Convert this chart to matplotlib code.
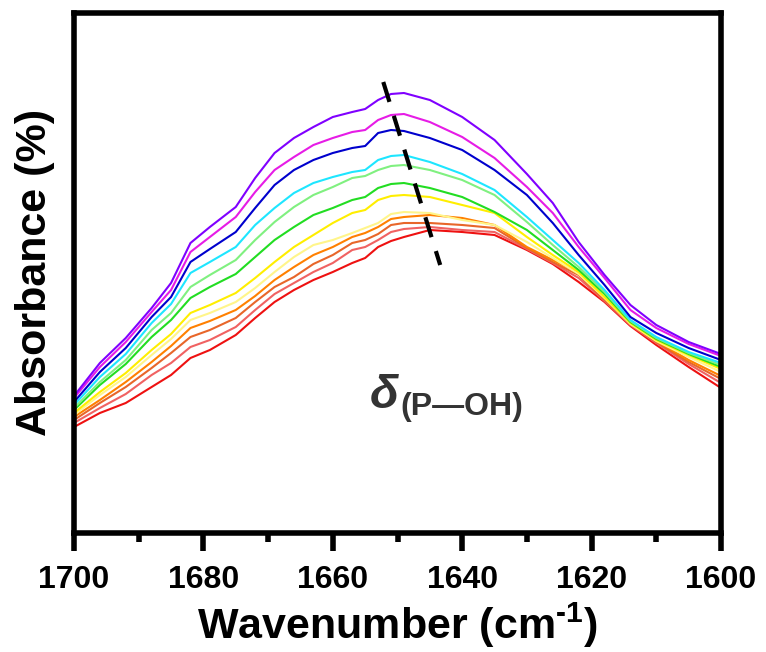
import matplotlib
matplotlib.use("Agg")
import matplotlib.pyplot as plt
from matplotlib.ticker import MultipleLocator

plt.rcParams["font.family"] = ["Liberation Sans", "DejaVu Sans"]
plt.rcParams["font.weight"] = "bold"
plt.rcParams["mathtext.fontset"] = "custom"
plt.rcParams["mathtext.rm"] = "Liberation Sans:bold"
plt.rcParams["mathtext.default"] = "rm"

# wavenumber grid (cm-1)
wavenumber = [1700, 1696, 1692, 1688, 1685, 1682, 1679, 1675, 1672, 1669, 1666, 1663, 1660, 1657, 1655,
              1653, 1651, 1649, 1645, 1640, 1635, 1630, 1626, 1622, 1618, 1614, 1610, 1605, 1600]

# absorbance (arbitrary units), one spectrum per colour, top to bottom
violet = [134, 167, 192, 222, 247, 287, 303, 323, 352, 377, 392, 403, 413, 418, 421,
          430, 436, 437, 430, 413, 390, 356, 327, 288, 255, 225, 205, 188, 176]
magenta = [132, 163, 188, 218, 240, 278, 293, 313, 338, 360, 373, 385, 392, 398, 400,
           410, 415, 416, 408, 393, 372, 343, 317, 283, 252, 220, 202, 186, 174]
blue = [128, 158, 182, 213, 233, 268, 281, 298, 322, 345, 360, 370, 377, 382, 384,
        397, 400, 399, 392, 380, 360, 335, 307, 275, 245, 213, 197, 182, 170]
cyan = [125, 153, 176, 207, 226, 257, 268, 283, 305, 322, 337, 347, 353, 358, 360,
        370, 374, 375, 368, 356, 340, 313, 290, 267, 240, 210, 193, 178, 167]
light_green = [122, 148, 170, 200, 217, 243, 255, 270, 290, 308, 323, 335, 343, 352, 354,
               360, 364, 365, 360, 350, 335, 308, 285, 263, 238, 209, 192, 177, 165]
green = [120, 145, 166, 193, 210, 232, 243, 256, 273, 290, 303, 315, 322, 330, 333,
         342, 346, 347, 342, 333, 318, 300, 280, 260, 236, 208, 191, 176, 163]
yellow = [117, 138, 157, 180, 196, 217, 225, 237, 252, 268, 283, 295, 307, 317, 320,
          330, 334, 335, 333, 325, 317, 293, 275, 258, 233, 207, 190, 175, 161]
light_yellow = [115, 135, 153, 175, 191, 210, 217, 228, 242, 258, 273, 285, 290, 297, 302,
                307, 316, 318, 317, 310, 305, 288, 272, 256, 232, 206, 189, 173, 158]
orange = [113, 130, 148, 168, 184, 202, 209, 220, 234, 250, 263, 275, 283, 293, 297,
          303, 311, 313, 315, 312, 305, 283, 270, 257, 232, 207, 189, 170, 154]
dark_orange = [110, 127, 143, 162, 177, 193, 200, 212, 228, 243, 253, 266, 275, 287, 290,
               296, 305, 307, 307, 305, 302, 282, 268, 255, 230, 206, 188, 168, 151]
salmon = [107, 122, 136, 155, 167, 183, 190, 203, 220, 236, 247, 258, 267, 280, 283,
          290, 298, 301, 303, 300, 298, 281, 267, 252, 229, 205, 187, 166, 147]
red = [103, 117, 127, 143, 155, 172, 180, 195, 212, 228, 240, 250, 258, 267, 272,
       283, 289, 293, 300, 298, 295, 280, 266, 248, 228, 204, 185, 163, 142]

spectra = [red, salmon, dark_orange, orange, light_yellow, yellow,
           green, light_green, cyan, blue, magenta, violet]
colors = ["#EE1111", "#F06262", "#E8662A", "#FF8000", "#FFF58A", "#FFEE00",
          "#22DD22", "#80F080", "#1EE6FF", "#0000CD", "#E61CE6", "#8000FF"]

# peak shift guide
shift_x = [1652.2, 1643.4]
shift_y = [448, 265]

fig = plt.figure(figsize=(7.66, 6.52), dpi=100)
ax = fig.add_axes([74 / 766, 1 - 533 / 652, (721 - 74) / 766, (533 - 12.5) / 652])

for s, c in zip(spectra, colors):
    ax.plot(wavenumber, s, color=c, lw=1.5)

ax.plot(shift_x, shift_y, color="black", lw=3, ls=(0, (5, 3.5)))

ax.text(1654.3, 122, "δ", fontsize=34, style="italic", fontweight="bold", color="#333333",
        ha="left", va="baseline")
ax.text(1649.6, 115, "(P—OH)", fontsize=23, fontweight="bold", color="#333333",
        ha="left", va="baseline")

ax.set_xlim(1700, 1600)
ax.set_ylim(-3, 517.5)
ax.xaxis.set_major_locator(MultipleLocator(20))
ax.xaxis.set_minor_locator(MultipleLocator(10))
ax.set_yticks([])
ax.tick_params(axis="x", which="major", length=13, width=4, direction="out", labelsize=23, pad=10)
ax.tick_params(axis="x", which="minor", length=6.5, width=4, direction="out")
for sp in ax.spines.values():
    sp.set_linewidth(4)

ax.set_xlabel(r"Wavenumber (cm$^{\text{-}1}$)", fontsize=31, fontweight="bold", labelpad=4)
ax.set_ylabel("Absorbance (%)", fontsize=31, fontweight="bold", labelpad=14)

plt.savefig("out.png", dpi=100)
